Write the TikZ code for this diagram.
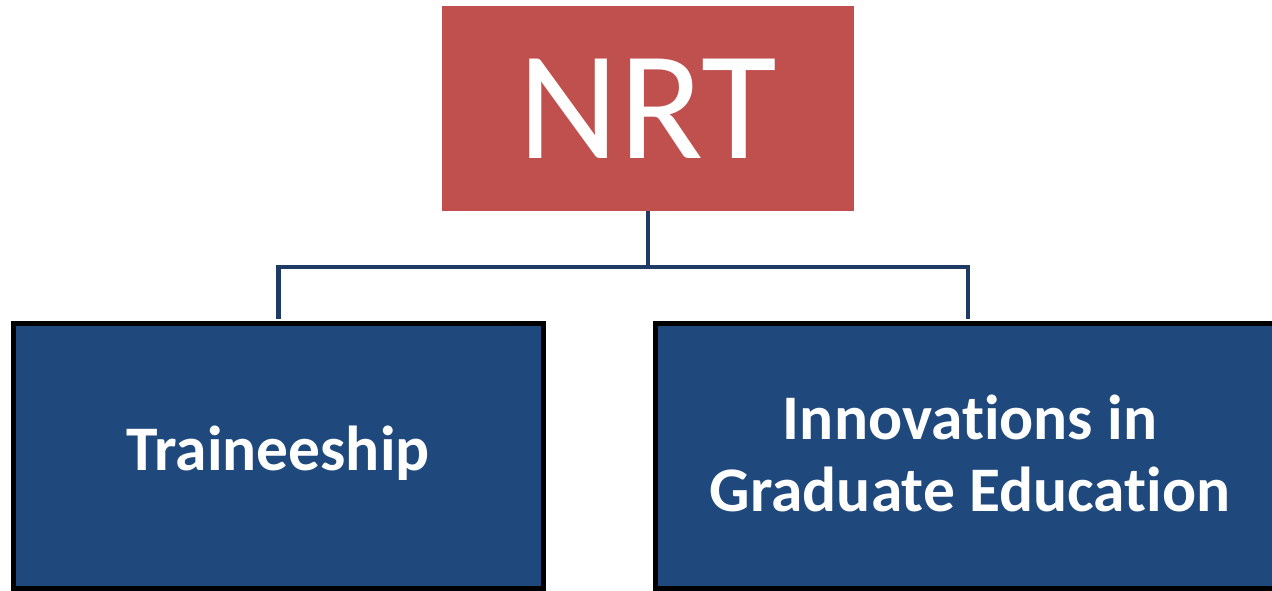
\documentclass[tikz,border=0pt]{standalone}
\usepackage{fontspec}
\setmainfont{Carlito}[Ligatures=NoCommon]
\definecolor{nrtred}{HTML}{C0504D}
\definecolor{boxblue}{HTML}{1F497D}
\definecolor{connblue}{HTML}{1F3A64}
\begin{document}
\begin{tikzpicture}[x=1pt,y=-1pt,
  topbox/.style={rectangle, fill=nrtred, inner sep=0pt, minimum width=412pt, minimum height=205pt, text=white, font=\fontsize{155}{160}\selectfont},
  subbox/.style={rectangle, fill=boxblue, draw=black, line width=5pt, inner sep=0pt},
  subtext/.style={text=white, font=\bfseries\fontsize{63.5}{72}\selectfont, align=center, inner sep=0pt},
  conn/.style={draw=connblue, line width=4.5pt}]
\useasboundingbox (0,0) rectangle (1272,591);
\fill[white] (0,0) rectangle (1272,591);
\node[topbox] (nrt) at (648,108.5) {NRT};
\node[subbox, minimum width=530pt, minimum height=264.5pt] (train) at (278.5,455.75) {};
\node[subbox, minimum width=624.5pt, minimum height=264.5pt] (ige) at (967.75,455.75) {};
\coordinate (j) at (648,267);
\draw[conn] (nrt.south) -- (j);
\draw[conn, shorten >=2.5pt] (j) -| (train.north);
\draw[conn, shorten >=2.5pt] (j) -| (ige.north);
\node[subtext] (traintext) at (278,453) {Traineeship};
\node[subtext] (igetext) at (970,453) {Innovations in\\Graduate Education};
\end{tikzpicture}
\end{document}
